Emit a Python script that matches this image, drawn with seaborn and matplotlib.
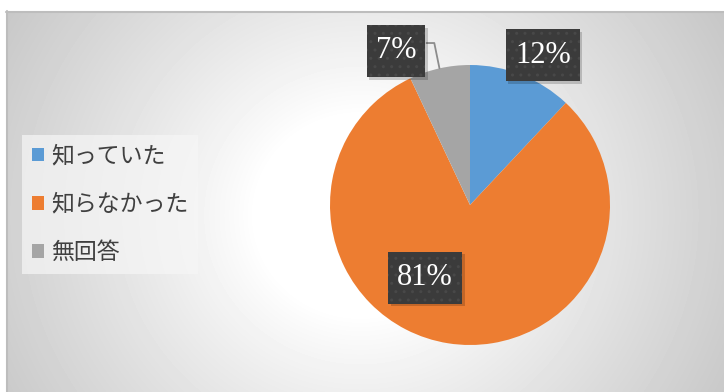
import numpy as np
import matplotlib
matplotlib.use("Agg")
import matplotlib.pyplot as plt
import seaborn as sns
from matplotlib.patches import Patch, Rectangle
from matplotlib.lines import Line2D

# survey answers and their shares (%)
categories = ["知っていた", "知らなかった", "無回答"]
shares = [12, 81, 7]
pct_labels = ["12%", "81%", "7%"]
colors = ["#5b9bd5", "#ed7d31", "#a5a5a5"]

# where each percentage tag sits (pie data units, radius = 1)
tag_pos = [(0.52, 1.07), (-0.32, -0.52), (-0.53, 1.10)]

sns.set_theme(style="white")
plt.rcParams["font.family"] = ["Noto Sans CJK JP", "DejaVu Sans"]

W, H = 724, 392
R_PX = 140
fig = plt.figure(figsize=(W / 100, H / 100), dpi=100)
fig.patch.set_facecolor("white")


def px(x0, y0, w, h):
    return [x0 / W, 1 - (y0 + h) / H, w / W, h / H]


# chart area with a soft radial gradient
bg = fig.add_axes(px(6, 11, W - 6, H - 11))
gy, gx = np.mgrid[11:H, 6:W]
cx, cy = 360, 215
d = np.hypot((gx - cx) / 1.05, gy - cy)
t = np.clip((d - 100) / 330, 0, 1)
v = 1 - 0.24 * t ** 0.9
bg.imshow(v, cmap="gray", vmin=0, vmax=1, aspect="auto",
          extent=(0, 1, 0, 1), interpolation="bilinear")
bg.set_axis_off()

fig.add_artist(Line2D([6 / W, 1], [1 - 11.5 / H] * 2, color="#bdbdbd", lw=1.5))
fig.add_artist(Line2D([6.5 / W] * 2, [0, 1 - 11 / H], color="#bdbdbd", lw=1.5))

# pie
ax = fig.add_axes(px(470 - R_PX, 205 - R_PX, 2 * R_PX, 2 * R_PX))
wedges, _ = ax.pie(shares, colors=sns.color_palette(colors), startangle=90,
                   counterclock=False, radius=1, wedgeprops=dict(linewidth=0))
ax.set_xlim(-1, 1)
ax.set_ylim(-1, 1)
ax.set_axis_off()

# percentage tags: dark dotted boxes with white serif text
fig.canvas.draw()
renderer = fig.canvas.get_renderer()
sh = 2.5 / R_PX
for lab, (x, y) in zip(pct_labels, tag_pos):
    txt = ax.text(x, y, lab, ha="center", va="center", fontsize=22,
                  family=["Liberation Serif"], color="white", clip_on=False,
                  zorder=7)
    bb = txt.get_window_extent(renderer)
    bw = (bb.width + 18) / R_PX
    bh = 52 / R_PX
    ax.add_patch(Rectangle((x - bw / 2 + sh, y - bh / 2 - sh), bw, bh,
                           fc="black", alpha=0.18, lw=0, zorder=5,
                           clip_on=False))
    ax.add_patch(Rectangle((x - bw / 2, y - bh / 2), bw, bh, fc="#3b3b3b",
                           ec="#484848", hatch="..", lw=0, zorder=6,
                           clip_on=False))

# leader line for the small slice
w = wedges[2]
mid = np.deg2rad((w.theta1 + w.theta2) / 2)
ex, ey = np.cos(mid), np.sin(mid)
ax.plot([-0.31, -0.255, ex], [1.157, 1.157, ey], color="#8c8c8c", lw=1.3,
        clip_on=False, zorder=4)

# legend
handles = [Patch(fc=c, ec="none") for c in colors]
fig.legend(handles, categories, loc="upper left",
           bbox_to_anchor=(22 / W, 1 - 135 / H), frameon=True, fancybox=False,
           facecolor="#f6f6f6", edgecolor="none", framealpha=0.7, fontsize=16.5,
           handlelength=0.55, handleheight=0.55, handletextpad=0.3,
           labelspacing=1.1, borderpad=0.42, borderaxespad=0,
           labelcolor="#404040")

fig.savefig("out.png", dpi=100)
